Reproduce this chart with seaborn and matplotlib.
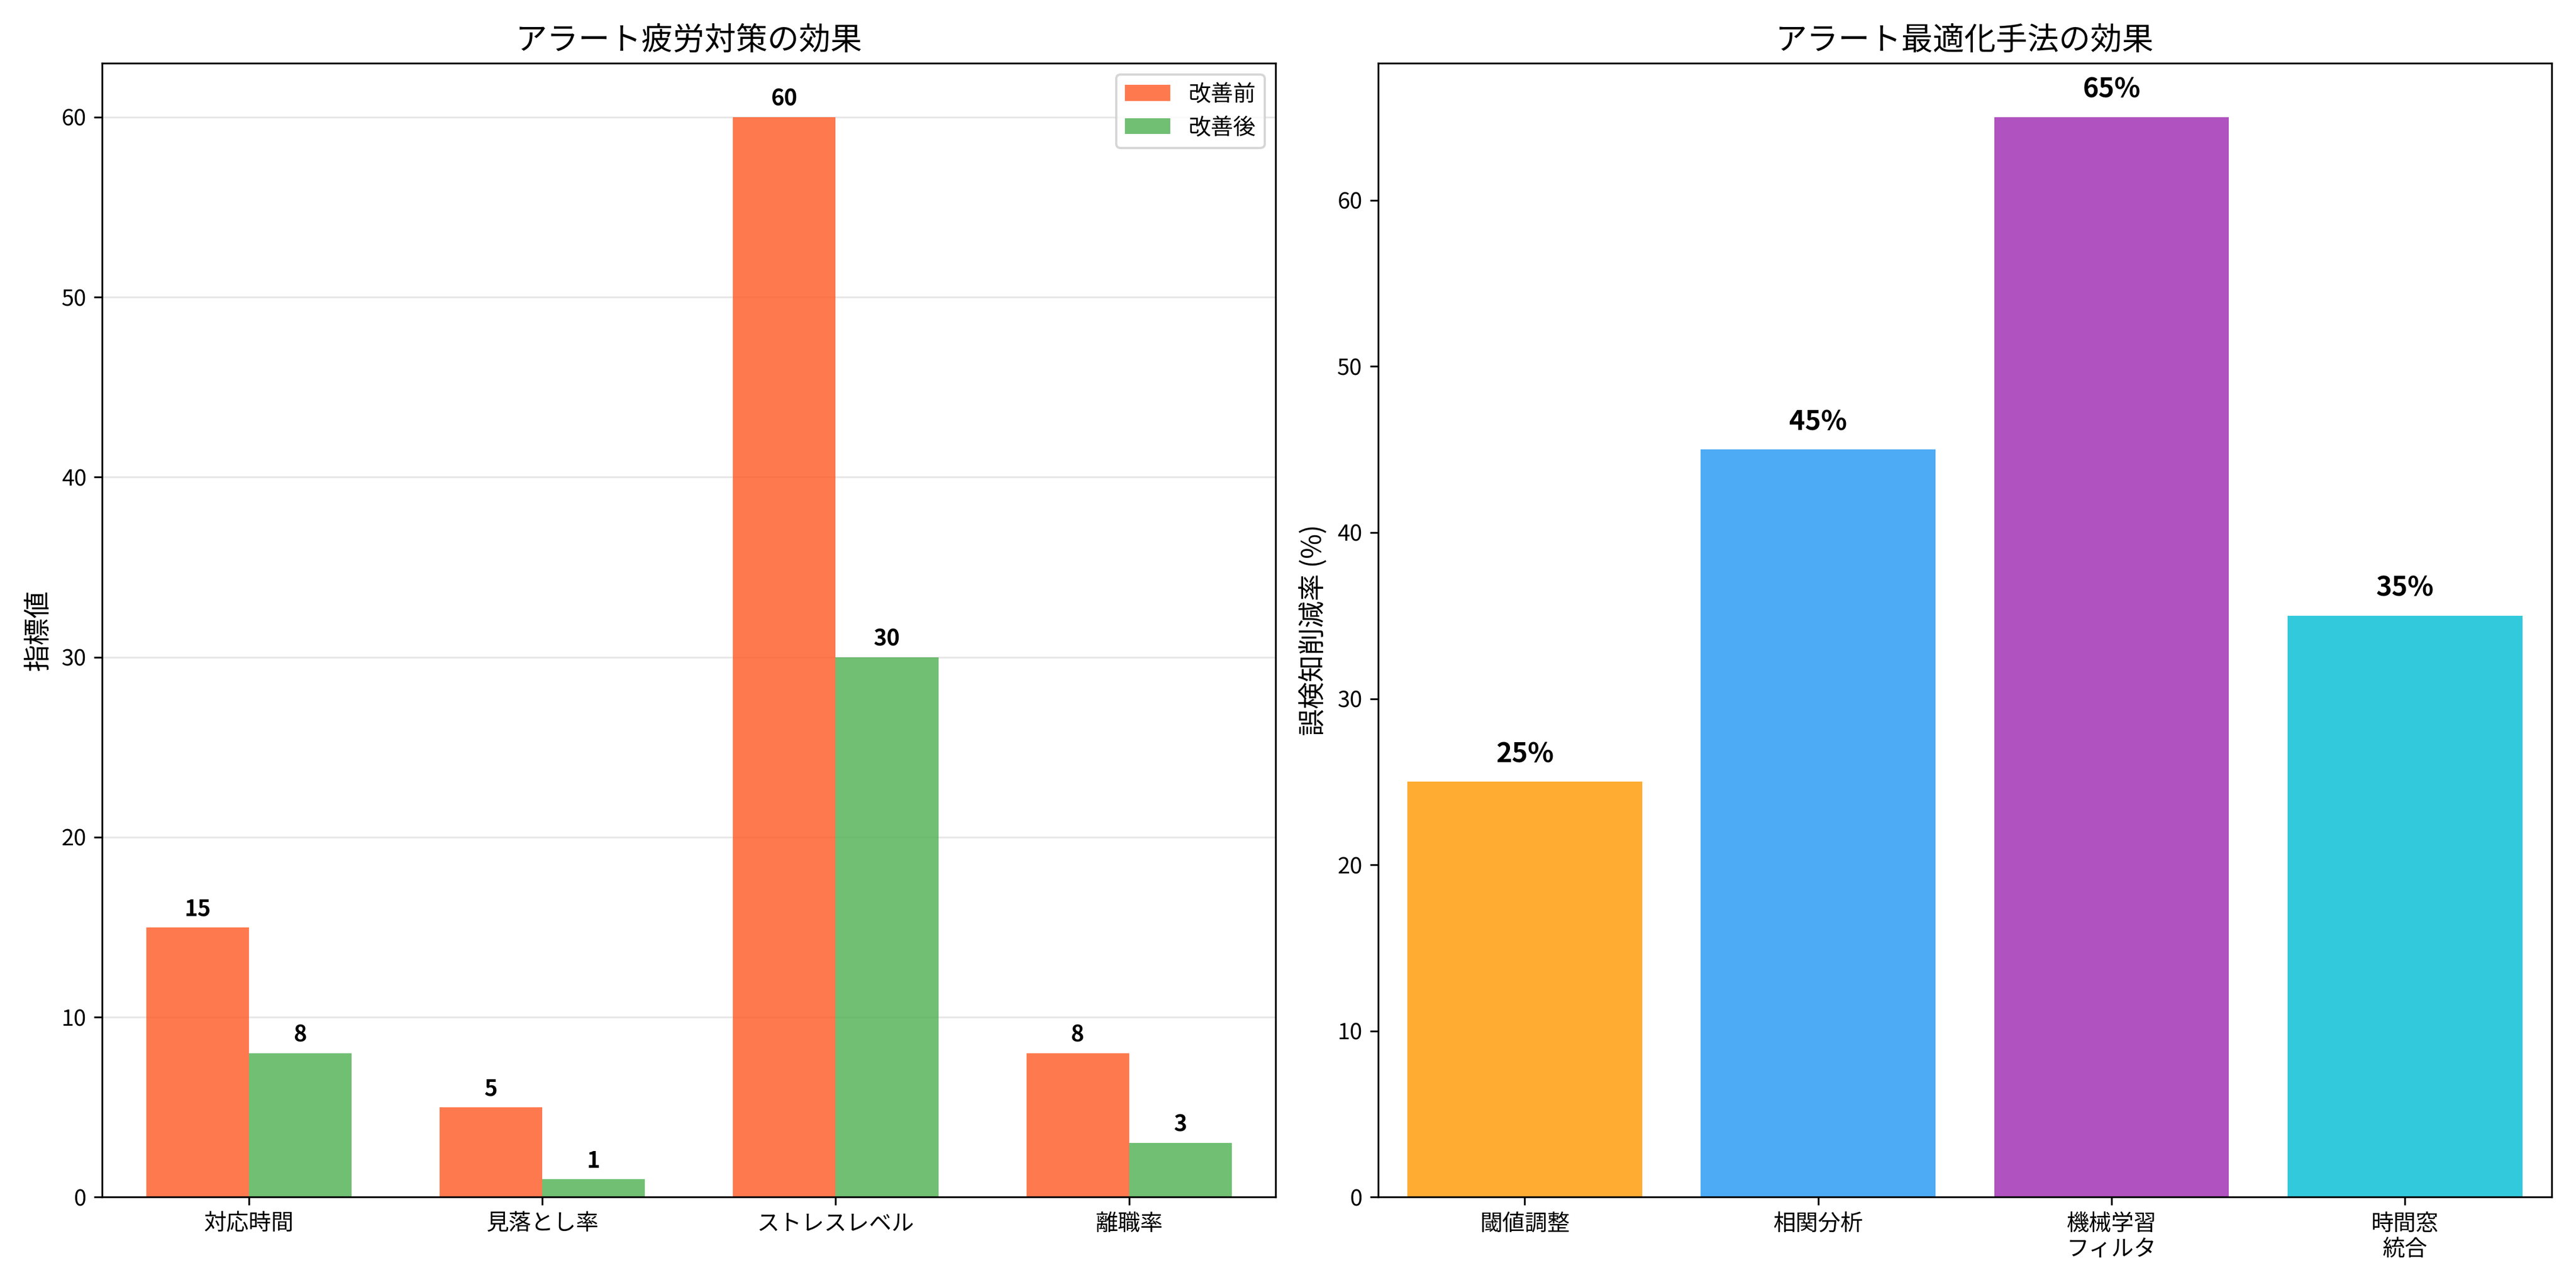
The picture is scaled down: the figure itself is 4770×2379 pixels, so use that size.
import numpy as np
import pandas as pd
import matplotlib
matplotlib.use("Agg")
import matplotlib.pyplot as plt
import seaborn as sns

plt.rcParams["font.family"] = ["Noto Sans CJK JP", "DejaVu Sans"]

# data
metrics = ["対応時間", "見落とし率", "ストレスレベル", "離職率"]
before = [15, 5, 60, 8]
after = [8, 1, 30, 3]

methods = ["閾値調整", "相関分析", "機械学習\nフィルタ", "時間窓\n統合"]
reduction = [25, 45, 65, 35]
method_colors = ["#FF9800", "#2196F3", "#9C27B0", "#00BCD4"]

fig, (ax1, ax2) = plt.subplots(1, 2, figsize=(15.9, 7.93), dpi=300)

# left: grouped bars
df = pd.DataFrame({
    "metric": metrics * 2,
    "value": before + after,
    "phase": ["改善前"] * 4 + ["改善後"] * 4,
})
sns.barplot(data=df, x="metric", y="value", hue="phase", ax=ax1,
            palette=["#FF5722", "#4CAF50"], alpha=0.8, width=0.7,
            saturation=1, errorbar=None)
for cont in ax1.containers:
    ax1.bar_label(cont, labels=[f"{v:.0f}" for v in cont.datavalues],
                  padding=3, fontweight="bold", fontsize=10)
ax1.set_title("アラート疲労対策の効果", fontsize=14)
ax1.set_xlabel("")
ax1.set_ylabel("指標値", fontsize=12)
ax1.yaxis.grid(True, alpha=0.3)
ax1.set_axisbelow(True)
ax1.legend(title=None, loc="upper right")

# right: single bars
df2 = pd.DataFrame({"method": methods, "reduction": reduction})
sns.barplot(data=df2, x="method", y="reduction", hue="method", ax=ax2,
            palette=method_colors, alpha=0.8, width=0.8, saturation=1,
            errorbar=None, legend=False)
for cont in ax2.containers:
    ax2.bar_label(cont, labels=[f"{v:.0f}%" for v in cont.datavalues],
                  padding=6, fontweight="bold", fontsize=12)
ax2.set_title("アラート最適化手法の効果", fontsize=14)
ax2.set_xlabel("")
ax2.set_ylabel("誤検知削減率 (%)", fontsize=12)
ax2.set_ylim(0, 68.25)

fig.tight_layout()
fig.savefig("out.png", dpi=300)
